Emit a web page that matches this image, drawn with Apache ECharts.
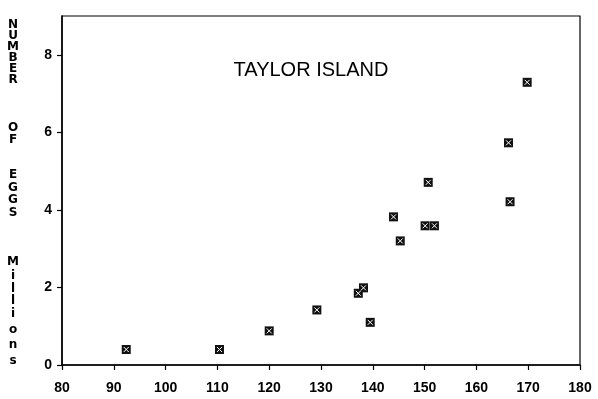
<!DOCTYPE html>
<html><head><meta charset="utf-8">
<script src="https://cdn.jsdelivr.net/npm/echarts@6/dist/echarts.min.js"></script>
<style>html,body{margin:0;padding:0;background:#fff}#c{width:598px;height:399px}</style>
</head><body><div id="c"></div>
<script>
// Data: female length (x) vs number of eggs in millions (y)
const lengths = [92.4, 110.4, 120.0, 129.2, 137.2, 138.2, 139.5, 144.0, 145.3, 150.1, 151.9, 150.7, 166.5, 166.2, 169.8];
const eggs    = [0.40, 0.40, 0.88, 1.42, 1.85, 1.99, 1.10, 3.82, 3.20, 3.59, 3.59, 4.71, 4.21, 5.73, 7.29];
const xTicks = [80, 90, 100, 110, 120, 130, 140, 150, 160, 170, 180];
const yTicks = [0, 2, 4, 6, 8];
const titleText = 'TAYLOR ISLAND';
const yTitleChars = ['N','U','M','B','E','R','O','F','E','G','G','S','M','i','l','l','i','o','n','s'];
const yTitleRows  = [25, 36, 47, 58, 69, 80, 128, 140, 175, 188, 200, 213, 262, 276, 289, 301, 314, 330, 345, 361];

const points = lengths.map((v, i) => [v, eggs[i]]);
const chart = echarts.init(document.getElementById('c'), null, {renderer: 'canvas'});
const labelFont = {color: '#000', fontFamily: 'Liberation Sans, Arial, sans-serif', fontSize: 14, fontWeight: 'bold'};
const graphics = [{type: 'text', x: 311, y: 70, style: {text: titleText, fill: '#000', font: '20px "Liberation Sans", Arial, sans-serif', align: 'center', verticalAlign: 'middle'}}];
yTitleChars.forEach((ch, i) => {
  graphics.push({type: 'text', x: 13, y: yTitleRows[i], style: {text: ch, fill: '#000', font: 'bold 12px "DejaVu Sans", sans-serif', align: 'center', verticalAlign: 'middle'}});
});
chart.setOption({
  backgroundColor: '#fff',
  animation: false,
  grid: {left: 62, right: 18, top: 16, bottom: 34, show: true, borderColor: '#000', borderWidth: 1.2, backgroundColor: 'transparent'},
  xAxis: {
    type: 'value', min: xTicks[0], max: xTicks[xTicks.length - 1], interval: 10,
    axisLine: {show: true, lineStyle: {color: '#000', width: 1.5}},
    axisTick: {show: true, inside: false, length: 5, lineStyle: {color: '#000', width: 1.2}},
    axisLabel: Object.assign({margin: 16}, labelFont),
    splitLine: {show: false}
  },
  yAxis: {
    type: 'value', min: 0, max: 9, interval: 2,
    axisLine: {show: true, lineStyle: {color: '#000', width: 1.5}},
    axisTick: {show: true, inside: false, length: 5, lineStyle: {color: '#000', width: 1.2}},
    axisLabel: Object.assign({margin: 10, showMaxLabel: false, formatter: v => yTicks.includes(v) ? String(v) : ''}, labelFont),
    splitLine: {show: false}
  },
  graphic: graphics,
  series: [{
    type: 'scatter', data: points, z: 2,
    symbol: 'rect', symbolSize: 9,
    itemStyle: {color: '#111', opacity: 1}
  }, {
    type: 'scatter', data: points, z: 3, silent: true,
    symbol: 'path://M0,0L10,10M10,0L0,10', symbolSize: 5,
    itemStyle: {color: 'none', borderColor: '#fff', borderWidth: 1, opacity: 1}
  }]
});
</script></body></html>
